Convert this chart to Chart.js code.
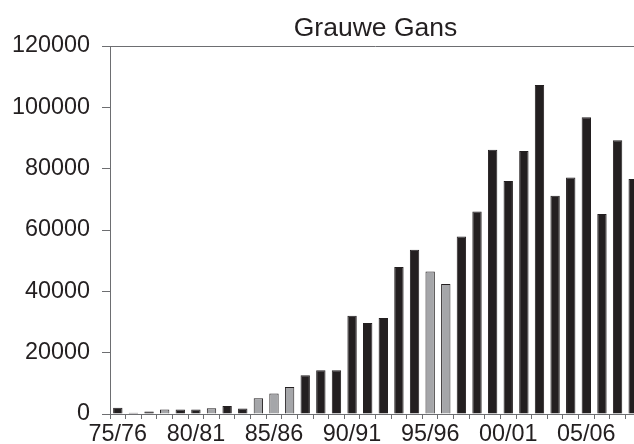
<!DOCTYPE html>
<html>
<head>
<meta charset="utf-8">
<script src="https://cdn.jsdelivr.net/npm/chart.js@4/dist/chart.umd.min.js"></script>
<style>
  html, body { margin: 0; padding: 0; background: #fff; overflow: hidden; }
  #clip { width: 634px; height: 444px; overflow: hidden; position: relative; }
  #c { display: block; }
</style>
</head>
<body>
<div id="clip"><canvas id="c" width="641" height="444"></canvas></div>
<script>
const seasons = ['75/76','76/77','77/78','78/79','79/80','80/81','81/82','82/83','83/84','84/85',
  '85/86','86/87','87/88','88/89','89/90','90/91','91/92','92/93','93/94','94/95',
  '95/96','96/97','97/98','98/99','99/00','00/01','01/02','02/03','03/04','04/05',
  '05/06','06/07','07/08','08/09'];
const counts = [2000, 400, 800, 1500, 1500, 1500, 1900, 2600, 1800, 5100,
  6700, 8800, 12600, 14300, 14300, 32000, 29700, 31300, 47900, 53600,
  46500, 42400, 57900, 66000, 86200, 76000, 85800, 107300, 71200, 77100,
  96800, 65200, 89300, 76600];
const greySeasons = ['78/79','81/82','84/85','85/86','86/87','95/96','96/97'];
const xTickLabels = ['75/76','80/81','85/86','90/91','95/96','00/01','05/06'];
const yTicks = [0, 20000, 40000, 60000, 80000, 100000, 120000];

const DARK = '#231f20';
const GREY = '#a5a6a9';
const AXIS = '#6d6e71';
const FONT = "'Liberation Sans', Arial, sans-serif";

const topLine = {
  id: 'topLine',
  afterDraw(chart) {
    const a = chart.chartArea, ctx = chart.ctx;
    ctx.save();
    ctx.strokeStyle = AXIS;
    ctx.lineWidth = 1;
    ctx.beginPath();
    ctx.moveTo(a.left, Math.round(a.top) + 0.5);
    ctx.lineTo(a.right, Math.round(a.top) + 0.5);
    ctx.stroke();
    ctx.restore();
  }
};

new Chart(document.getElementById('c'), {
  type: 'bar',
  data: {
    labels: seasons,
    datasets: [{
      data: counts,
      backgroundColor: seasons.map(s => greySeasons.includes(s) ? GREY : DARK),
      borderColor: DARK,
      borderWidth: 1,
      barPercentage: 0.6,
      categoryPercentage: 1.0
    }]
  },
  options: {
    responsive: false,
    animation: false,
    layout: { padding: 0 },
    plugins: {
      legend: { display: false },
      tooltip: { enabled: false },
      title: {
        display: true,
        fullSize: false,
        text: 'Grauwe Gans',
        color: DARK,
        font: { family: FONT, size: 26.5, weight: 'normal', lineHeight: 1.2 },
        padding: { top: 13, bottom: 1.2 }
      }
    },
    scales: {
      x: {
        type: 'category',
        offset: true,
        afterFit(s) { s.height = 30; },
        grid: { display: true, offset: true, drawOnChartArea: false, drawTicks: true, tickLength: 5, color: AXIS },
        border: { display: true, color: AXIS, width: 1 },
        ticks: {
          autoSkip: false, maxRotation: 0, minRotation: 0, padding: 2,
          color: DARK, font: { family: FONT, size: 23.4 },
          callback(v, i) { const l = seasons[i]; return xTickLabels.includes(l) ? l : ''; }
        }
      },
      y: {
        min: 0, max: 120000,
        afterFit(s) { s.width = 110; },
        afterBuildTicks(s) { s.ticks = yTicks.map(v => ({ value: v })); },
        grid: { display: true, drawOnChartArea: false, drawTicks: true, tickLength: 8, color: AXIS },
        border: { display: true, color: AXIS, width: 1 },
        ticks: {
          padding: 12, color: DARK, font: { family: FONT, size: 23.4 },
          callback(v) { return String(v); }
        }
      }
    }
  },
  plugins: [topLine]
});
</script>
</body>
</html>
